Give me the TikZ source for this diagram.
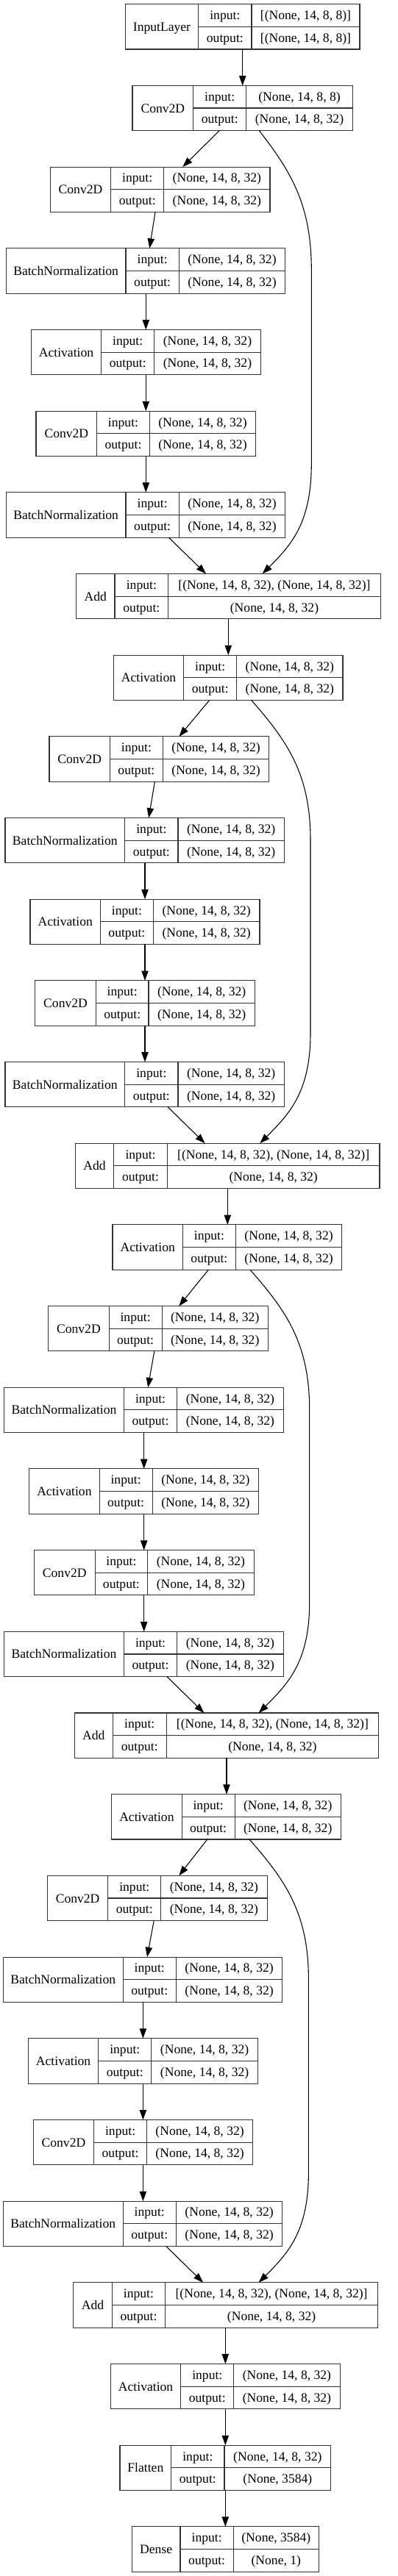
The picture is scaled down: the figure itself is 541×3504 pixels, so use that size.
\documentclass[tikz,border=0pt]{standalone}
\usepackage{fontspec}
\setmainfont{Liberation Serif}
\usetikzlibrary{arrows.meta}
\begin{document}
\begin{tikzpicture}[x=0.75pt,y=-0.75pt,
  box/.style={draw=black!80, line width=0.8pt, inner sep=0pt, outer sep=0pt, minimum height={61.3*0.75pt}},
  cell/.style={draw=black!80, line width=0.8pt},
  txt/.style={font=\fontsize{13.2}{15}\selectfont, anchor=base, inner sep=0pt},
  edge/.style={line width=0.8pt, -{Triangle[length=10pt,width=7pt]}}]
\newcommand{\layerbox}[9]{%
  \pgfmathsetmacro{\LBt}{5.7+110.68*#2}%
  \pgfmathsetmacro{\LBb}{\LBt+61.3}%
  \pgfmathsetmacro{\LBm}{\LBt+30.65}%
  \node[box, minimum width={(#6-(#3))*0.75pt}, anchor=north west] (#1) at (#3,\LBt) {};
  \draw[cell] (#4,\LBt) -- (#4,\LBb) (#5,\LBt) -- (#5,\LBb) (#4,\LBm) -- (#6,\LBm);
  \node[txt] (#1-name) at ({((#3)+(#4))/2},{\LBm+6}) {#7};
  \node[txt] (#1-inl) at ({((#4)+(#5))/2},{\LBt+20.9}) {input:};
  \node[txt] (#1-outl) at ({((#4)+(#5))/2},{\LBm+20.9}) {output:};
  \node[txt] (#1-inv) at ({((#5)+(#6))/2},{\LBt+20.9}) {#8};
  \node[txt] (#1-outv) at ({((#5)+(#6))/2},{\LBm+20.9}) {#9};
}
\newcommand{\resblock}[7]{%
  \pgfmathsetmacro{\DX}{-1.3*#1}%
  \pgfmathtruncatemacro{\RBa}{2+7*#1}%
  \pgfmathtruncatemacro{\RBb}{3+7*#1}%
  \pgfmathtruncatemacro{\RBc}{4+7*#1}%
  \pgfmathtruncatemacro{\RBd}{5+7*#1}%
  \pgfmathtruncatemacro{\RBe}{6+7*#1}%
  \pgfmathtruncatemacro{\RBf}{7+7*#1}%
  \pgfmathtruncatemacro{\RBg}{8+7*#1}%
  \layerbox{n\RBa}{\RBa}{68.3+\DX}{150.7+\DX}{222.7+\DX}{367+\DX}{Conv2D}{(None, 14, 8, 32)}{(None, 14, 8, 32)}
  \layerbox{n\RBb}{\RBb}{8.3+\DX}{171+\DX}{243.3+\DX}{387.7+\DX}{BatchNormalization}{(None, 14, 8, 32)}{(None, 14, 8, 32)}
  \layerbox{n\RBc}{\RBc}{42.3+\DX}{137.7+\DX}{209.7+\DX}{354.3+\DX}{Activation}{(None, 14, 8, 32)}{(None, 14, 8, 32)}
  \layerbox{n\RBd}{\RBd}{49+\DX}{131.7+\DX}{203.3+\DX}{347.7+\DX}{Conv2D}{(None, 14, 8, 32)}{(None, 14, 8, 32)}
  \layerbox{n\RBe}{\RBe}{8.3+\DX}{171+\DX}{243.3+\DX}{387.7+\DX}{BatchNormalization}{(None, 14, 8, 32)}{(None, 14, 8, 32)}
  \layerbox{n\RBf}{\RBf}{103.7+\DX}{156+\DX}{228.7+\DX}{517.3+\DX}{Add}{[(None, 14, 8, 32), (None, 14, 8, 32)]}{(None, 14, 8, 32)}
  \layerbox{n\RBg}{\RBg}{154.3+\DX}{249.7+\DX}{321.7+\DX}{466+\DX}{Activation}{(None, 14, 8, 32)}{(None, 14, 8, 32)}
  \pgfmathsetmacro{\XCa}{211-0.6*#1}%
  \pgfmathsetmacro{\XCb}{203.3-1.1*#1}%
  \pgfmathsetmacro{\VX}{198.3+\DX}%
  \pgfmathsetmacro{\XBa}{229.3-1.2*#1}%
  \pgfmathsetmacro{\XBb}{280-1.3*#1}%
  \pgfmathsetmacro{\SV}{423.3+\DX}%
  \pgfmathsetmacro{\SB}{5.7+110.68*(1+7*#1)+61.3}%
  \pgfmathsetmacro{\ST}{5.7+110.68*(7+7*#1)}%
  \pgfmathsetmacro{\CPa}{#5+0.6*(\SV-#5)}%
  \pgfmathsetmacro{\CPb}{#6+40}%
  \draw[edge] (#2.south -| #3,0) -- (n\RBa.north -| #4,0);
  \draw[edge] (n\RBa.south -| \XCa,0) -- (n\RBb.north -| \XCb,0);
  \draw[edge] (n\RBb.south -| \VX,0) -- (n\RBc.north -| \VX,0);
  \draw[edge] (n\RBc.south -| \VX,0) -- (n\RBd.north -| \VX,0);
  \draw[edge] (n\RBd.south -| \VX,0) -- (n\RBe.north -| \VX,0);
  \draw[edge] (n\RBe.south -| \XBa,0) -- (n\RBf.north -| \XBb,0);
  \draw[edge] (#2.south -| #5,0) .. controls (\CPa,{\SB+55}) and (\SV,{\SB+100}) .. (\SV,{\SB+190})
     -- (\SV,{\ST-150}) .. controls (\SV,{\ST-70}) and (\CPb,{\ST-40}) .. (n\RBf.north -| #6,0);
  \draw[edge] (n\RBf.south -| #7,0) -- (n\RBg.north -| #7,0);
}
\fill[white] (0,0) rectangle (541,3504);
\useasboundingbox (0,0) rectangle (541,3504);
\layerbox{n0}{0}{170.3}{269.7}{342}{489}{InputLayer}{[(None, 14, 8, 8)]}{[(None, 14, 8, 8)]}
\layerbox{n1}{1}{180}{262.7}{334.7}{479.3}{Conv2D}{(None, 14, 8, 8)}{(None, 14, 8, 32)}
\draw[edge] (n0.south -| 329.7,0) -- (n1.north -| 329.7,0);
\resblock{0}{n1}{298.3}{248.3}{352.3}{356.7}{310.3}
\resblock{1}{n8}{284.7}{243.5}{341.7}{353.3}{309.3}
\resblock{2}{n15}{283.3}{243.3}{340}{351.7}{308}
\resblock{3}{n22}{281.7}{243.3}{339}{351.7}{306.3}
\layerbox{n30}{30}{163}{232.7}{305}{449.7}{Flatten}{(None, 14, 8, 32)}{(None, 3584)}
\layerbox{n31}{31}{179.3}{245}{317.3}{433.3}{Dense}{(None, 3584)}{(None, 1)}
\draw[edge] (n29.south -| 306.3,0) -- (n30.north -| 306.3,0);
\draw[edge] (n30.south -| 306.3,0) -- (n31.north -| 306.3,0);
\end{tikzpicture}
\end{document}
